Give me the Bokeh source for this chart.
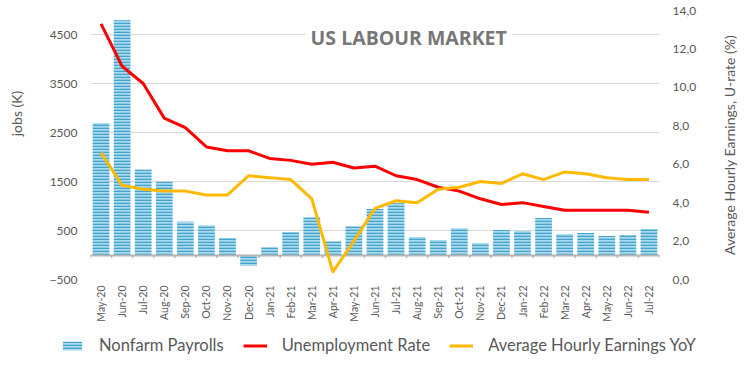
import numpy as np
from bokeh.plotting import figure
from bokeh.models import (Range1d, LinearAxis, FixedTicker, Label, Legend, LegendItem)
from bokeh.embed import file_html
from bokeh.resources import INLINE

months = ["May-20", "Jun-20", "Jul-20", "Aug-20", "Sep-20", "Oct-20", "Nov-20", "Dec-20",
          "Jan-21", "Feb-21", "Mar-21", "Apr-21", "May-21", "Jun-21", "Jul-21", "Aug-21",
          "Sep-21", "Oct-21", "Nov-21", "Dec-21", "Jan-22", "Feb-22", "Mar-22", "Apr-22",
          "May-22", "Jun-22", "Jul-22"]
payrolls = [2700, 4800, 1750, 1500, 680, 610, 350, -220, 160, 470, 775, 280, 590, 940, 1060,
            370, 310, 550, 245, 510, 490, 755, 430, 450, 390, 410, 530]
unemployment = [13.3, 11.1, 10.2, 8.4, 7.9, 6.9, 6.7, 6.7, 6.3, 6.2, 6.0, 6.1, 5.8, 5.9, 5.4,
                5.2, 4.8, 4.6, 4.2, 3.9, 4.0, 3.8, 3.6, 3.6, 3.6, 3.6, 3.5]
earnings = [6.6, 4.9, 4.7, 4.6, 4.6, 4.4, 4.4, 5.4, 5.3, 5.2, 4.2, 0.4, 2.0, 3.7, 4.1,
            4.0, 4.7, 4.8, 5.1, 5.0, 5.5, 5.2, 5.6, 5.5, 5.3, 5.2, 5.2]
left_ticks = [-500, 500, 1500, 2500, 3500, 4500]
right_ticks = [0, 2, 4, 6, 8, 10, 12, 14]
right_tick_labels = ["0,0", "2,0", "4,0", "6,0", "8,0", "10,0", "12,0", "14,0"]
series_names = ["Nonfarm Payrolls", "Unemployment Rate", "Average Hourly Earnings YoY"]

FONT = "Lato"
TXT = "#595959"
BAR_STYLE = dict(fill_color="#aadaee", line_color=None, hatch_pattern="horizontal_line",
                 hatch_color="#45a4cb", hatch_scale=3, hatch_weight=1.6)
RED_STYLE = dict(line_color="#ff0000", line_width=3, line_join="round")
YEL_STYLE = dict(line_color="#ffb900", line_width=3, line_join="round")

idx = np.arange(len(months))
bounds = np.arange(len(months) + 1) - 0.5

p = figure(width=746, height=330, x_range=Range1d(-0.5, len(months) - 0.5),
           y_range=Range1d(-500, 5000), output_backend="svg", toolbar_location=None,
           min_border_left=90, min_border_right=87, min_border_top=10, min_border_bottom=51)
p.extra_y_ranges = {"right": Range1d(0, 14)}
p.outline_line_color = None
p.background_fill_color = "white"
p.border_fill_color = "white"

# left axis
ya = p.yaxis[0]
ya.ticker = FixedTicker(ticks=left_ticks)
ya.axis_line_color = None
ya.major_tick_line_color = None
ya.minor_tick_line_color = None
ya.major_tick_out = 0
ya.major_tick_in = 0
ya.major_label_standoff = 13
ya.major_label_text_font = FONT
ya.major_label_text_font_size = "12px"
ya.major_label_text_color = TXT
ya.axis_label = "\u2003" * 6 + "jobs (K)"
ya.axis_label_text_font = FONT
ya.axis_label_text_font_size = "14px"
ya.axis_label_text_font_style = "normal"
ya.axis_label_text_color = TXT
ya.axis_label_standoff = 22

# right axis
ra = LinearAxis(y_range_name="right", ticker=FixedTicker(ticks=right_ticks),
                major_label_overrides={t: l for t, l in zip(right_ticks, right_tick_labels)})
ra.axis_line_color = None
ra.major_tick_line_color = None
ra.minor_tick_line_color = None
ra.major_tick_out = 0
ra.major_tick_in = 0
ra.major_label_standoff = 13
ra.major_label_text_font = FONT
ra.major_label_text_font_size = "12px"
ra.major_label_text_color = TXT
p.add_layout(ra, "right")

# right axis title, reading bottom-to-top, placed in the right side panel
right_label = Label(x=29.8, y=7, y_range_name="right", text="Average Hourly Earnings, U-rate (%)",
                    angle=np.pi / 2, text_align="center", text_baseline="middle",
                    text_font=FONT, text_font_size="14px", text_color=TXT)
p.add_layout(right_label, "right")

# x axis
xa = p.xaxis[0]
xa.ticker = FixedTicker(ticks=list(idx))
xa.major_label_overrides = {int(i): m for i, m in zip(idx, months)}
xa.major_label_orientation = np.pi / 2
xa.axis_line_color = None
xa.major_tick_line_color = None
xa.minor_tick_line_color = None
xa.major_tick_out = 0
xa.major_tick_in = 0
xa.major_label_standoff = 6
xa.major_label_text_font = FONT
xa.major_label_text_font_size = "10.5px"
xa.major_label_text_color = TXT

p.xgrid.grid_line_color = None
p.ygrid.ticker = FixedTicker(ticks=left_ticks)
p.ygrid.grid_line_color = "#d9d9d9"
p.ygrid.grid_line_width = 1

p.vbar(x=idx, top=payrolls, bottom=0, width=0.79, **BAR_STYLE)
p.hspan(y=[0], line_color="#b5b5b5", line_width=2)
p.segment(x0=bounds, y0=0, x1=bounds, y1=-60, line_color="#b5b5b5", line_width=1.5)
p.line(idx, unemployment, y_range_name="right", **RED_STYLE)
p.line(idx, earnings, y_range_name="right", **YEL_STYLE)

title = Label(x=14.6, y=4450, text="US LABOUR MARKET", text_align="center",
              text_baseline="middle", text_font="Open Sans", text_font_style="bold",
              text_font_size="19.5px", text_color="#777777", background_fill_color="white",
              padding=5)
p.add_layout(title)

# legend strip: same series, drawn just below its visible y range so only the legend shows
lg = figure(width=746, height=43, x_range=Range1d(-0.5, len(months) - 0.5),
            y_range=Range1d(6000, 10000),
            output_backend="svg", toolbar_location=None,
            min_border_left=0, min_border_right=0, min_border_top=0, min_border_bottom=0)
lg.axis.visible = False
lg.grid.visible = False
lg.outline_line_color = None
r_bar = lg.vbar(x=idx, top=payrolls, width=0.79, **BAR_STYLE)
r_red = lg.line(idx, unemployment, **RED_STYLE)
r_yel = lg.line(idx, earnings, **YEL_STYLE)

legend = Legend(items=[LegendItem(label=series_names[0], renderers=[r_bar]),
                       LegendItem(label=series_names[1], renderers=[r_red]),
                       LegendItem(label=series_names[2], renderers=[r_yel])],
                orientation="horizontal", location=(60, 18), padding=0, margin=0,
                spacing=19, label_standoff=15, glyph_width=24, glyph_height=11,
                border_line_color=None, background_fill_alpha=0,
                label_text_font=FONT, label_text_font_size="16.5px", label_text_color=TXT)
lg.add_layout(legend)

open("out.html", "w").write(file_html([p, lg], INLINE))
